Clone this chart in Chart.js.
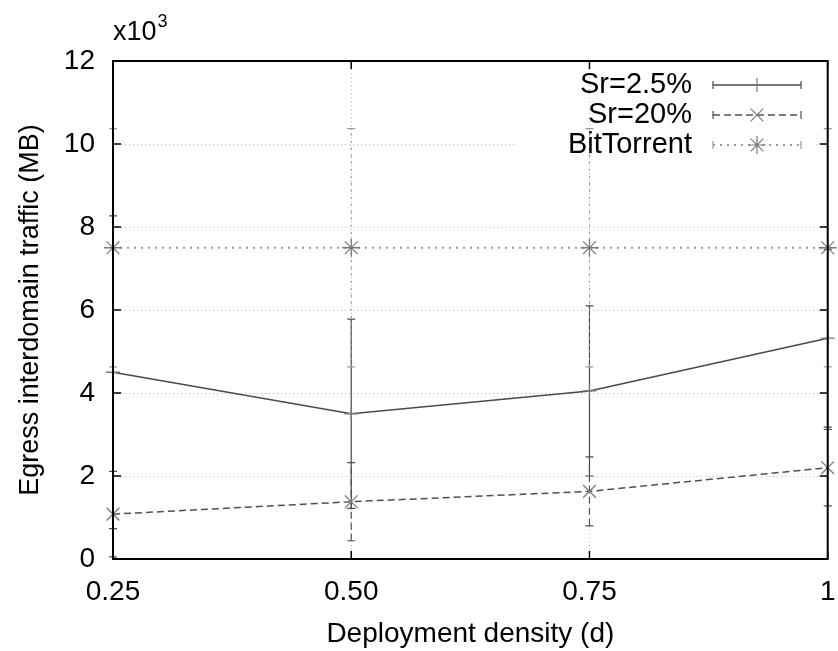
<!DOCTYPE html>
<html>
<head>
<meta charset="utf-8">
<script src="https://cdn.jsdelivr.net/npm/chart.js@4/dist/chart.umd.min.js"></script>
<style>
  html, body { margin: 0; padding: 0; background: #fff; }
  #wrap { width: 838px; height: 651px; }
</style>
</head>
<body>
<div id="wrap"><canvas id="c" width="838" height="651"></canvas></div>
<script>
// Deployment density on the x axis, traffic in thousands of MB on the y axis
const density = [0.25, 0.50, 0.75, 1];
const densityLabels = ['0.25', '0.50', '0.75', '1'];
const yTicks = [0, 2, 4, 6, 8, 10, 12];

const sr25 = [4.5, 3.5, 4.05, 5.32];
const sr25Err = [3.77, 2.28, 2.05, 2.14];
const sr20 = [1.08, 1.38, 1.63, 2.2];
const sr20Err = [1.03, 0.94, 0.83, 0.92];
const bitTorrent = [7.5, 7.5, 7.5, 7.5];
const bitTorrentErr = [2.87, 2.87, 2.87, 2.87];

const seriesNames = ['Sr=2.5%', 'Sr=20%', 'BitTorrent'];

const FONT = '"Liberation Sans", Arial, Helvetica, sans-serif';

const series = [
  { name: seriesNames[0], y: sr25, err: sr25Err, color: '#4a4a4a', dash: [], width: 1.5,
    point: 'cross', radius: 7, pointColor: '#7a7a7a' },
  { name: seriesNames[1], y: sr20, err: sr20Err, color: '#505050', dash: [7, 4], width: 1.5,
    point: 'crossRot', radius: 9, pointColor: '#7a7a7a' },
  { name: seriesNames[2], y: bitTorrent, err: bitTorrentErr, color: '#9a9a9a', dash: [2, 5], width: 2,
    point: 'star', radius: 9, pointColor: '#7a7a7a' }
];

// gnuplot-like frame, grid, error bars, legend and labels
const framePlugin = {
  id: 'frame',
  beforeDatasetsDraw(chart) {
    const { ctx, chartArea: a, scales: { x, y } } = chart;
    ctx.save();
    // dotted grid
    ctx.strokeStyle = '#b8b8b8';
    ctx.lineWidth = 1;
    ctx.setLineDash([1, 3]);
    yTicks.slice(1, -1).forEach(v => {
      const py = Math.round(y.getPixelForValue(v)) + 0.5;
      ctx.beginPath();
      if (v === 10) {
        ctx.moveTo(a.left, py); ctx.lineTo(514, py);
        ctx.moveTo(817, py); ctx.lineTo(a.right, py);
      } else {
        ctx.moveTo(a.left, py); ctx.lineTo(a.right, py);
      }
      ctx.stroke();
    });
    density.slice(1, -1).forEach(v => {
      const px = Math.round(x.getPixelForValue(v)) + 0.5;
      ctx.beginPath(); ctx.moveTo(px, a.top); ctx.lineTo(px, a.bottom); ctx.stroke();
    });
    // error bars
    series.forEach(s => {
      ctx.strokeStyle = s.color;
      ctx.lineWidth = 1.2;
      ctx.setLineDash(s.dash);
      density.forEach((d, i) => {
        const px = x.getPixelForValue(d);
        const lo = y.getPixelForValue(s.y[i] - s.err[i]);
        const hi = y.getPixelForValue(s.y[i] + s.err[i]);
        ctx.beginPath(); ctx.moveTo(px, lo); ctx.lineTo(px, hi); ctx.stroke();
        ctx.setLineDash([]);
        ctx.beginPath();
        ctx.moveTo(px - 4, lo); ctx.lineTo(px + 4, lo);
        ctx.moveTo(px - 4, hi); ctx.lineTo(px + 4, hi);
        ctx.stroke();
        ctx.setLineDash(s.dash);
      });
    });
    ctx.restore();
  },
  afterDatasetsDraw(chart) {
    const { ctx, chartArea: a, scales: { x, y } } = chart;
    ctx.save();
    ctx.setLineDash([]);
    // inward tick marks
    ctx.strokeStyle = '#000';
    ctx.lineWidth = 1.5;
    yTicks.forEach(v => {
      const py = y.getPixelForValue(v);
      ctx.beginPath();
      ctx.moveTo(a.left, py); ctx.lineTo(a.left + 8, py);
      ctx.moveTo(a.right, py); ctx.lineTo(a.right - 8, py);
      ctx.stroke();
    });
    density.forEach(v => {
      const px = x.getPixelForValue(v);
      ctx.beginPath();
      ctx.moveTo(px, a.bottom); ctx.lineTo(px, a.bottom - 8);
      ctx.moveTo(px, a.top); ctx.lineTo(px, a.top + 8);
      ctx.stroke();
    });
    // frame
    ctx.lineWidth = 2;
    ctx.strokeRect(a.left, a.top, a.right - a.left, a.bottom - a.top);

    // legend
    ctx.font = '29px ' + FONT;
    ctx.textAlign = 'right';
    ctx.textBaseline = 'middle';
    const rows = [85, 115, 145];
    series.forEach((s, i) => {
      const ry = rows[i];
      ctx.fillStyle = '#000';
      ctx.fillText(s.name, 692, ry);
      ctx.strokeStyle = s.color;
      ctx.lineWidth = s.width;
      ctx.setLineDash(s.dash);
      ctx.beginPath(); ctx.moveTo(713, ry); ctx.lineTo(801, ry); ctx.stroke();
      ctx.setLineDash([]);
      ctx.lineWidth = 1.2;
      ctx.beginPath();
      ctx.moveTo(713, ry - 4); ctx.lineTo(713, ry + 4);
      ctx.moveTo(801, ry - 4); ctx.lineTo(801, ry + 4);
      ctx.stroke();
      ctx.strokeStyle = s.pointColor;
      Chart.helpers.drawPoint(ctx, {
        pointStyle: s.point, radius: s.radius, borderWidth: 1.3, rotation: 0
      }, 757, ry);
    });
    ctx.restore();
  },
  afterDraw(chart) {
    const { ctx, chartArea: a } = chart;
    ctx.save();
    ctx.fillStyle = '#000';
    // axis multiplier
    ctx.font = '27px ' + FONT;
    ctx.textAlign = 'left';
    ctx.textBaseline = 'alphabetic';
    ctx.fillText('x10', 113, 40);
    const w = ctx.measureText('x10').width;
    ctx.font = '18px ' + FONT;
    ctx.fillText('3', 113 + w + 1, 27);
    // axis titles
    ctx.font = '28px ' + FONT;
    ctx.textAlign = 'center';
    ctx.textBaseline = 'middle';
    ctx.fillText('Deployment density (d)', (a.left + a.right) / 2, 634);
    ctx.font = '27px ' + FONT;
    ctx.translate(31, (a.top + a.bottom) / 2);
    ctx.rotate(-Math.PI / 2);
    ctx.fillText('Egress interdomain traffic (MB)', 0, 0);
    ctx.restore();
  }
};

const datasets = series.map(s => ({
  label: s.name,
  data: density.map((d, i) => ({ x: d, y: s.y[i] })),
  borderColor: s.color,
  borderWidth: s.width,
  borderDash: s.dash,
  pointStyle: s.point,
  pointRadius: s.radius,
  pointBorderColor: s.pointColor,
  pointBackgroundColor: s.pointColor,
  pointBorderWidth: 1.3,
  fill: false,
  tension: 0,
  clip: false
}));

new Chart(document.getElementById('c'), {
  type: 'line',
  data: { datasets },
  options: {
    responsive: false,
    animation: false,
    devicePixelRatio: 1,
    layout: { padding: { top: 61, right: 2, left: 0, bottom: 0 } },
    plugins: { legend: { display: false }, tooltip: { enabled: false } },
    scales: {
      x: {
        type: 'linear',
        min: 0.25,
        max: 1,
        grid: { display: false, drawTicks: false },
        border: { display: false },
        afterBuildTicks(scale) { scale.ticks = density.map(v => ({ value: v })); },
        afterFit(scale) { scale.height = 92; scale.paddingLeft = 0; scale.paddingRight = 0; },
        ticks: {
          padding: 16,
          maxRotation: 0,
          autoSkip: false,
          color: '#000',
          font: { family: FONT, size: 28 },
          callback: (v) => densityLabels[density.indexOf(v)] ?? ''
        }
      },
      y: {
        min: 0,
        max: 12,
        grid: { display: false, drawTicks: false },
        border: { display: false },
        afterBuildTicks(scale) { scale.ticks = yTicks.map(v => ({ value: v })); },
        afterFit(scale) { scale.width = 113; scale.paddingTop = 0; scale.paddingBottom = 0; },
        ticks: {
          padding: 18,
          color: '#000',
          font: { family: FONT, size: 28 },
          callback: (v) => String(v)
        }
      }
    }
  },
  plugins: [framePlugin]
});
</script>
</body>
</html>
